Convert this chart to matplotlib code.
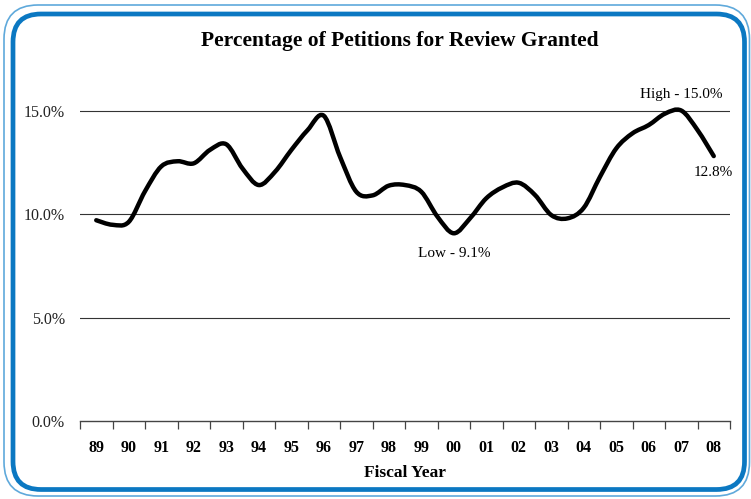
import numpy as np
import matplotlib
matplotlib.use("Agg")
import matplotlib.pyplot as plt
from matplotlib.path import Path
from matplotlib.patches import PathPatch, FancyBboxPatch

# fiscal year labels and half-year readings of the curve (percent)
years = ["89", "90", "91", "92", "93", "94", "95", "96", "97", "98",
         "99", "00", "01", "02", "03", "04", "05", "06", "07", "08"]
pos = np.arange(0, 19.01, 0.5)
pct = [9.70, 9.48, 9.62, 11.10, 12.30, 12.55, 12.45, 13.10, 13.37, 12.20,
       11.40, 12.04, 13.09, 14.05, 14.75, 12.77, 11.08, 10.90, 11.37, 11.40,
       11.08, 9.87, 9.07, 9.79, 10.76, 11.29, 11.51, 10.92, 9.95, 9.79,
       10.30, 11.80, 13.17, 13.90, 14.30, 14.85, 15.00, 14.06, 12.80]

yticks = [0, 5, 10, 15]
ytick_labels = ["0.0%", "5.0%", "10.0%", "15.0%"]

SERIF = "Liberation Serif"
BLUE = "#0B78C2"
LIGHT = "#5FA9DB"


def smooth_path(x, y):
    """catmull-rom through the points, as cubic bezier pieces"""
    p = np.column_stack([x, y])
    ext = np.vstack([p[0], p, p[-1]])
    verts = [p[0]]
    codes = [Path.MOVETO]
    for i in range(len(p) - 1):
        p0, p1, p2, p3 = ext[i], ext[i + 1], ext[i + 2], ext[i + 3]
        c1 = p1 + (p2 - p0) / 6.0
        c2 = p2 - (p3 - p1) / 6.0
        verts += [c1, c2, p2]
        codes += [Path.CURVE4] * 3
    return Path(verts, codes)


fig = plt.figure(figsize=(7.51, 4.99), dpi=100)
W, H = 751, 499

# rounded blue frame (pixel coords)
outer = FancyBboxPatch((4, 3), 745.5, 491, boxstyle="round,pad=0,rounding_size=34",
                       transform=None, fill=False, ec=LIGHT, lw=1.2)
inner = FancyBboxPatch((13, 9.5), 731.5, 475.5, boxstyle="round,pad=0,rounding_size=28",
                       transform=None, fill=False, ec=BLUE, lw=3.4)
fig.patches.extend([outer, inner])

ax = fig.add_axes([80 / W, 78 / H, 650 / W, 341.5 / H])
ax.set_xlim(-0.5, 19.5)
ax.set_ylim(0, 16.5)

for s in ["top", "right", "left"]:
    ax.spines[s].set_visible(False)
ax.spines["bottom"].set_color("#444444")
ax.spines["bottom"].set_linewidth(1.0)

for v in yticks[1:]:
    ax.axhline(v, color="#333333", lw=0.8, zorder=1)

ax.set_yticks(yticks)
ax.set_yticklabels(ytick_labels, fontfamily=SERIF, fontsize=11.5, color="#222222")
ax.tick_params(axis="y", length=0, pad=11)

ax.set_xticks(np.arange(-0.5, 20, 1.0))
ax.set_xticklabels([])
ax.tick_params(axis="x", which="major", direction="out", length=6, width=0.9, color="#444444")
ax.set_xticks(np.arange(len(years)), minor=True)
ax.set_xticklabels(years, minor=True, fontfamily=SERIF, fontsize=11.5, fontweight="bold")
ax.tick_params(axis="x", which="minor", length=0, pad=14)

ax.add_patch(PathPatch(smooth_path(pos, pct), fill=False, ec="black", lw=3.2,
                       capstyle="round", joinstyle="round", zorder=3))

ax.set_xlabel("Fiscal Year", fontfamily=SERIF, fontsize=12.5, fontweight="bold", labelpad=6)

ax.annotate("High - 15.0%", xy=(18, 15.0), xytext=(0, 7), textcoords="offset points",
            ha="center", va="bottom", fontfamily=SERIF, fontsize=11)
ax.annotate("12.8%", xy=(19, 12.8), xytext=(0, -7), textcoords="offset points",
            ha="center", va="top", fontfamily=SERIF, fontsize=11)
ax.annotate("Low - 9.1%", xy=(11, 9.07), xytext=(0, -10), textcoords="offset points",
            ha="center", va="top", fontfamily=SERIF, fontsize=11)

fig.text(400 / W, 1 - 41 / H, "Percentage of Petitions for Review Granted",
         ha="center", va="center", fontfamily=SERIF, fontsize=15.5, fontweight="bold")

fig.savefig("out.png", dpi=100)
